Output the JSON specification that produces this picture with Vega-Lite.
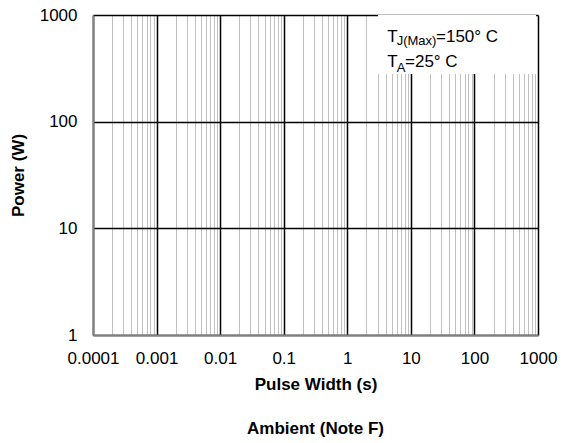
{
  "$schema": "https://vega.github.io/schema/vega-lite/v6.json",
  "width": 445,
  "height": 320,
  "autosize": {"type": "none"},
  "padding": {"left": 93, "top": 15, "right": 28, "bottom": 108},
  "background": "white",
  "config": {
    "view": {"stroke": null},
    "font": "Liberation Sans",
    "text": {"font": "Liberation Sans", "color": "black"}
  },
  "title": {
    "text": "Ambient (Note F)",
    "orient": "bottom",
    "anchor": "middle",
    "fontSize": 17,
    "fontWeight": "bold",
    "font": "Liberation Sans",
    "color": "black",
    "offset": 29
  },
  "layer": [
    {
      "data": {"values": [{"x1": 3.04, "x2": 930, "y1": 1000, "y2": 280}]},
      "mark": {"type": "rect", "fill": "white", "stroke": null},
      "encoding": {
        "x": {
          "field": "x1",
          "type": "quantitative",
          "scale": {"type": "log", "domain": [0.0001, 1000], "nice": false},
          "axis": {
            "values": [0.0001, 0.0002, 0.0003, 0.0004, 0.0005, 0.0006, 0.0007, 0.0008, 0.0009,
                       0.001, 0.002, 0.003, 0.004, 0.005, 0.006, 0.007, 0.008, 0.009,
                       0.01, 0.02, 0.03, 0.04, 0.05, 0.06, 0.07, 0.08, 0.09,
                       0.1, 0.2, 0.3, 0.4, 0.5, 0.6, 0.7, 0.8, 0.9,
                       1, 2, 3, 4, 5, 6, 7, 8, 9,
                       10, 20, 30, 40, 50, 60, 70, 80, 90,
                       100, 200, 300, 400, 500, 600, 700, 800, 900, 1000],
            "grid": true,
            "gridColor": {"condition": {"test": "abs(log(datum.value)/LN10 - round(log(datum.value)/LN10)) < 0.001", "value": "black"}, "value": "#c0c0c0"},
            "gridWidth": {"condition": {"test": "abs(log(datum.value)/LN10 - round(log(datum.value)/LN10)) < 0.001", "value": 1.5}, "value": 1},
            "gridOpacity": 1,
            "ticks": false,
            "domainColor": "#808080",
            "domainWidth": 2,
            "labelExpr": "abs(log(datum.value)/LN10 - round(log(datum.value)/LN10)) < 0.001 ? format(datum.value, '~g') : ''",
            "labelFontSize": 17,
            "labelFont": "Liberation Sans",
            "labelColor": "black",
            "labelPadding": 15,
            "labelFlush": false,
            "labelOverlap": false,
            "labelBound": false,
            "title": "Pulse Width (s)",
            "titleFont": "Liberation Sans",
            "titleFontSize": 17,
            "titleFontWeight": "bold",
            "titleColor": "black",
            "titlePadding": 10
          }
        },
        "x2": {"field": "x2"},
        "y": {
          "field": "y1",
          "type": "quantitative",
          "scale": {"type": "log", "domain": [1, 1000], "nice": false},
          "axis": {
            "values": [1, 10, 100, 1000],
            "grid": true,
            "gridColor": "black",
            "gridWidth": 1.5,
            "gridOpacity": 1,
            "ticks": false,
            "domainColor": "#808080",
            "domainWidth": 2,
            "format": "~g",
            "labelFontSize": 17,
            "labelFont": "Liberation Sans",
            "labelColor": "black",
            "labelPadding": 16,
            "labelFlush": false,
            "labelOverlap": false,
            "labelBound": false,
            "title": "Power (W)",
            "titleFont": "Liberation Sans",
            "titleFontSize": 17,
            "titleFontWeight": "bold",
            "titleColor": "black",
            "titlePadding": 12
          }
        },
        "y2": {"field": "y2"}
      }
    },
    {
      "data": {"values": [
        {"x": 4.26, "y": 562, "t": "T"},
        {"x": 24.86, "y": 562, "t": "=150° C"},
        {"x": 4.26, "y": 327.6, "t": "T"},
        {"x": 8.09, "y": 327.6, "t": "=25° C"}
      ]},
      "mark": {"type": "text", "align": "left", "baseline": "alphabetic", "fontSize": 17, "font": "Liberation Sans", "color": "black"},
      "encoding": {
        "x": {"field": "x", "type": "quantitative"},
        "y": {"field": "y", "type": "quantitative"},
        "text": {"field": "t"}
      }
    },
    {
      "data": {"values": [
        {"x": 5.99, "y": 523, "t": "J(Max)"},
        {"x": 5.99, "y": 292, "t": "A"}
      ]},
      "mark": {"type": "text", "align": "left", "baseline": "alphabetic", "fontSize": 13, "font": "Liberation Sans", "color": "black"},
      "encoding": {
        "x": {"field": "x", "type": "quantitative"},
        "y": {"field": "y", "type": "quantitative"},
        "text": {"field": "t"}
      }
    }
  ]
}
